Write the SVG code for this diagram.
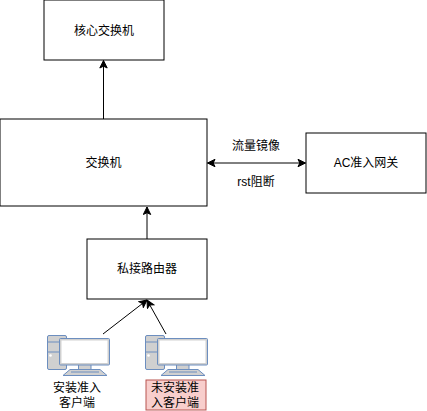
<svg xmlns="http://www.w3.org/2000/svg" width="427" height="411" viewBox="0 0 427 411">
<style>
.box{fill:#fff;stroke:#000;stroke-width:1}
.t{font-family:"Liberation Sans","Noto Sans CJK SC",sans-serif;font-size:12px;fill:#000;text-anchor:middle}
.e{fill:none;stroke:#000;stroke-width:1}
.case{fill:#d0d0d0;stroke:#6c8ebf;stroke-width:1;stroke-linejoin:round}
</style>
<defs>
<marker id="a" viewBox="0 0 9 9" refX="8.500" refY="4.500" markerWidth="9" markerHeight="9" markerUnits="userSpaceOnUse" orient="auto-start-reverse"><path d="M1 0.800L8.500 4.500L1 8.200L2.800 4.500Z" fill="#000" stroke="#000" stroke-width="1"/></marker>
<g id="pc">
<rect class="case" x="0.500" y="0.500" width="19" height="34" rx="1.500"/>
<path class="case" d="M0.500 7H13M0.500 17H13"/>
<circle cx="3.500" cy="20.500" r="1.300" fill="#fff"/>
<path class="case" d="M31.500 29H44V34.500H31.500Z"/>
<path class="case" d="M23 34.500H53L60 40.500H16Z"/>
<path class="case" d="M24 37H52" fill="none"/>
<rect class="case" x="12.500" y="3.500" width="50" height="26.500" rx="1"/>
<rect x="14.500" y="5.500" width="46" height="22.500" fill="#fff"/>
</g>
</defs>
<g id="edges">
<path class="e" d="M103.500 119V60.500" marker-end="url(#a)"/>
<path class="e" d="M147 239V207" marker-end="url(#a)"/>
<path class="e" d="M103 334L147 300" marker-end="url(#a)"/>
<path class="e" d="M166 334L147 300" marker-end="url(#a)"/>
<path class="e" d="M207.500 163H305.500" marker-start="url(#a)" marker-end="url(#a)"/>
</g>
<g id="core"><rect class="box" x="44" y="0" width="120" height="60"/><text class="t" x="104" y="35">核心交换机</text></g>
<g id="switch"><rect class="box" x="0" y="119" width="207" height="87"/><text class="t" x="103.500" y="167">交换机</text></g>
<g id="gateway"><rect class="box" x="306" y="133" width="120" height="60"/><text class="t" x="366" y="167">AC准入网关</text></g>
<g id="router"><rect class="box" x="87" y="239" width="120" height="60"/><text class="t" x="147" y="273">私接路由器</text></g>
<g id="label-mirror"><text class="t" x="256" y="150">流量镜像</text></g>
<g id="label-rst"><text class="t" x="256" y="186">rst阻断</text></g>
<g id="pc1"><use href="#pc" x="47" y="335"/><text class="t" x="77" y="392">安装准入</text><text class="t" x="77" y="407">客户端</text></g>
<g id="pc2"><use href="#pc" x="145" y="335"/><rect x="146" y="380" width="60" height="30" fill="#f8cecc" stroke="#b85450"/><text class="t" x="175" y="392">未安装准</text><text class="t" x="175" y="407">入客户端</text></g>
</svg>
